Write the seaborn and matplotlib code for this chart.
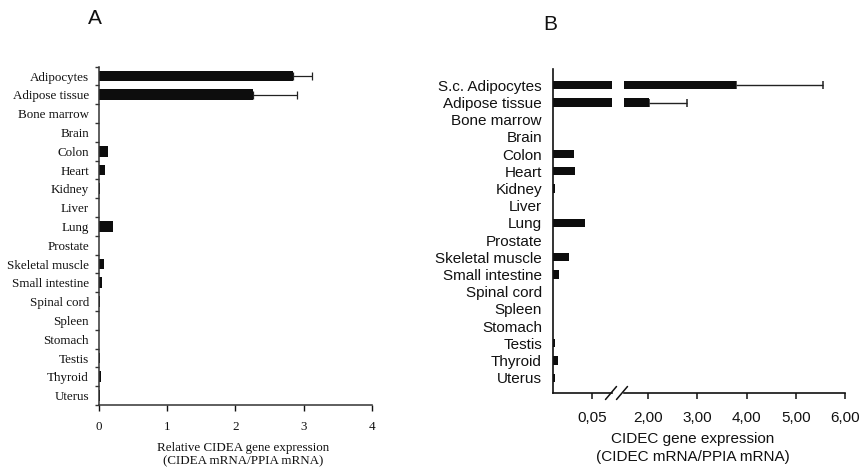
import numpy as np
import pandas as pd
import matplotlib
matplotlib.use("Agg")
import matplotlib.pyplot as plt
from matplotlib.ticker import FixedLocator
from matplotlib.lines import Line2D
import seaborn as sns

# ---------------- data ----------------
tissues_a = ["Adipocytes", "Adipose tissue", "Bone marrow", "Brain", "Colon", "Heart",
             "Kidney", "Liver", "Lung", "Prostate", "Skeletal muscle", "Small intestine",
             "Spinal cord", "Spleen", "Stomach", "Testis", "Thyroid", "Uterus"]
cidea = [2.84, 2.25, 0.0, 0.0, 0.13, 0.09, 0.01, 0.0, 0.20, 0.0, 0.08, 0.05,
         0.02, 0.0, 0.0, 0.01, 0.03, 0.01]
cidea_err = [0.28, 0.65, 0, 0, 0, 0, 0, 0, 0, 0, 0, 0, 0, 0, 0, 0, 0, 0]

tissues_b = ["S.c. Adipocytes", "Adipose tissue", "Bone marrow", "Brain", "Colon", "Heart",
             "Kidney", "Liver", "Lung", "Prostate", "Skeletal muscle", "Small intestine",
             "Spinal cord", "Spleen", "Stomach", "Testis", "Thyroid", "Uterus"]
cidec = [3.78, 2.02, 0.0, 0.0, 0.027, 0.028, 0.002, 0.0, 0.041, 0.0, 0.021, 0.008,
         0.0, 0.0, 0.0, 0.003, 0.007, 0.002]
cidec_err = [1.77, 0.78, 0, 0, 0, 0, 0, 0, 0, 0, 0, 0, 0, 0, 0, 0, 0, 0]

a_ticks = [0, 1, 2, 3, 4]
b_low_ticks = [0.05]
b_low_labels = ["0,05"]
b_high_ticks = [2, 3, 4, 5, 6]
b_high_labels = ["2,00", "3,00", "4,00", "5,00", "6,00"]

df_a = pd.DataFrame({"tissue": tissues_a, "value": cidea, "err": cidea_err})
df_b = pd.DataFrame({"tissue": tissues_b, "value": cidec, "err": cidec_err})

# ---------------- style ----------------
sns.set_theme(style="ticks")
plt.rcParams["font.family"] = ["Liberation Sans", "DejaVu Sans"]

W, H = 862, 473
fig = plt.figure(figsize=(W / 100, H / 100), dpi=100)
fig.patch.set_facecolor("white")

def fx(px):
    return px / W

def fy(py):
    return 1 - py / H

BAR = "#0d0d0d"
TXT = "#111111"
SERIF = ["Liberation Serif", "DejaVu Serif"]
SANS = ["Liberation Sans", "DejaVu Sans"]

# ---------------- panel A ----------------
axA = fig.add_axes([fx(99), fy(405), fx(372) - fx(99), fy(66.6) - fy(405)])
sns.barplot(data=df_a, x="value", y="tissue", orient="h", color=BAR, width=0.57,
            errorbar=None, saturation=1, linewidth=0, ax=axA)
yA = np.arange(len(tissues_a))
axA.errorbar(df_a["value"][:2], yA[:2], xerr=[np.zeros(2), df_a["err"][:2]],
             fmt="none", ecolor="#222222", elinewidth=0.9, capsize=2.8, capthick=0.9,
             zorder=0.9)
axA.set_xlim(0, 4)
axA.set_ylim(17.5, -0.5)
axA.set_xticks(a_ticks)
axA.set_xticklabels([str(t) for t in a_ticks], family=SERIF, fontsize=9.4)
axA.set_yticks(yA)
axA.set_yticklabels(tissues_a, family=SERIF, fontsize=9.4)
axA.yaxis.set_minor_locator(FixedLocator(np.arange(-0.5, 18, 1)))
axA.tick_params(axis="y", which="major", length=0, pad=7.2, colors=TXT)
axA.tick_params(axis="y", which="minor", length=3, width=1, direction="out", color="#333333")
axA.tick_params(axis="x", which="major", length=4, width=1, pad=7.5, colors=TXT)
axA.set_xlabel("")
axA.set_ylabel("")
for s in ["top", "right"]:
    axA.spines[s].set_visible(False)
for s in ["left", "bottom"]:
    axA.spines[s].set_linewidth(1.1)
    axA.spines[s].set_color("#333333")
axA.set_facecolor("white")

fig.text(fx(243), fy(441.5), "Relative CIDEA gene expression\n(CIDEA mRNA/PPIA mRNA)",
         ha="center", va="top", family=SERIF, fontsize=9.4, linespacing=1.2, color=TXT)
fig.text(fx(95), fy(18), "A", ha="center", va="center", family=SANS, fontsize=15, color=TXT)

# ---------------- panel B (broken axis) ----------------
b_bottom, b_top = 393, 69
yB = np.arange(len(tissues_b))
ylimB = (17.89, -0.95)

axB1 = fig.add_axes([fx(553), fy(b_bottom), fx(612) - fx(553), fy(b_top) - fy(b_bottom)])
sns.barplot(data=df_b, x="value", y="tissue", orient="h", color=BAR, width=0.48,
            errorbar=None, saturation=1, linewidth=0, ax=axB1)
axB1.set_xlim(0, 0.0756)
axB1.set_ylim(*ylimB)
axB1.set_xticks(b_low_ticks)
axB1.set_xticklabels(b_low_labels, family=SANS, fontsize=11)
axB1.set_yticks(yB)
axB1.set_yticklabels(tissues_b, family=SANS, fontsize=11, color=TXT)
axB1.tick_params(axis="y", length=0, pad=8)
axB1.tick_params(axis="x", length=4, width=1.1, pad=9, colors=TXT)
axB1.set_xlabel("")
axB1.set_ylabel("")
axB1.spines["top"].set_visible(False)
axB1.spines["right"].set_visible(False)
for s in ["left", "bottom"]:
    axB1.spines[s].set_linewidth(1.2)
    axB1.spines[s].set_color("#111111")
axB1.set_facecolor("none")

axB2 = fig.add_axes([fx(624), fy(b_bottom), fx(845) - fx(624), fy(b_top) - fy(b_bottom)])
sns.barplot(data=df_b, x="value", y="tissue", orient="h", color=BAR, width=0.48,
            errorbar=None, saturation=1, linewidth=0, ax=axB2)
axB2.errorbar(df_b["value"][:2], yB[:2], xerr=[np.zeros(2), df_b["err"][:2]],
              fmt="none", ecolor="#222222", elinewidth=1.0, capsize=3.0, capthick=1.1,
              zorder=0.9)
axB2.set_xlim(1.51, 6.0)
axB2.set_ylim(*ylimB)
axB2.set_xticks(b_high_ticks)
axB2.set_xticklabels(b_high_labels, family=SANS, fontsize=11)
axB2.set_yticks([])
axB2.tick_params(axis="x", length=4, width=1.1, pad=9, colors=TXT)
axB2.set_xlabel("")
axB2.set_ylabel("")
for s in ["top", "right", "left"]:
    axB2.spines[s].set_visible(False)
axB2.spines["bottom"].set_linewidth(1.2)
axB2.spines["bottom"].set_color("#111111")
axB2.set_facecolor("none")

# break marks on the x axis
for (x0, y0, x1, y1) in [(605.5, 399.5, 616.5, 386.5), (616.5, 399.5, 627.5, 386.5)]:
    fig.add_artist(Line2D([fx(x0), fx(x1)], [fy(y0), fy(y1)], transform=fig.transFigure,
                          color="#111111", lw=1.1))

fig.text(fx(693), fy(432), "CIDEC gene expression\n(CIDEC mRNA/PPIA mRNA)",
         ha="center", va="top", family=SANS, fontsize=11, linespacing=1.35, color=TXT)
fig.text(fx(550), fy(25), "B", ha="center", va="center", family=SANS, fontsize=15, color=TXT)

fig.savefig("out.png", dpi=100, facecolor="white")
